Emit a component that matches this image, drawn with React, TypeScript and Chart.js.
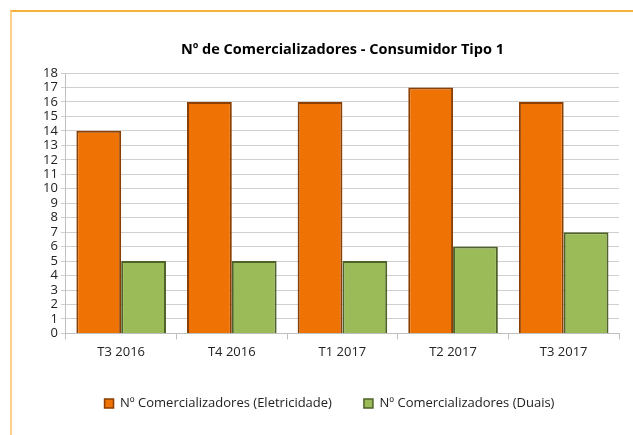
import React, { useEffect, useRef } from "react";
import { Chart, registerables } from "chart.js";

Chart.register(...registerables);

const categories = ["T3 2016", "T4 2016", "T1 2017", "T2 2017", "T3 2017"];
const eletricidade = [14, 16, 16, 17, 16];
const duais = [5, 5, 5, 6, 7];
const seriesNames = ["Nº Comercializadores (Eletricidade)", "Nº Comercializadores (Duais)"];
const titleText = "Nº de Comercializadores - Consumidor Tipo 1";

const centeredTitle = {
  id: "centeredTitle",
  afterDraw(chart: any) {
    const { ctx, chartArea } = chart;
    ctx.save();
    ctx.font = "bold 14.5px 'Open Sans'";
    ctx.fillStyle = "#000000";
    ctx.textAlign = "center";
    ctx.textBaseline = "middle";
    ctx.fillText(titleText, (chartArea.left + chartArea.right) / 2, 50);
    ctx.restore();
  },
};

export default function App() {
  const ref = useRef<HTMLCanvasElement | null>(null);
  useEffect(() => {
    if (!ref.current) return;
    const chart = new Chart(ref.current, {
      type: "bar",
      data: {
        labels: categories,
        datasets: [
          {
            label: seriesNames[0],
            data: eletricidade,
            backgroundColor: "#ef7204",
            borderColor: "#8c3f02",
            borderWidth: { top: 2, left: 2, right: 2, bottom: 0 },
            borderSkipped: false,
            categoryPercentage: 0.81,
            barPercentage: 1,
          },
          {
            label: seriesNames[1],
            data: duais,
            backgroundColor: "#9bbb59",
            borderColor: "#4f6228",
            borderWidth: { top: 2, left: 2, right: 2, bottom: 0 },
            borderSkipped: false,
            categoryPercentage: 0.81,
            barPercentage: 1,
          },
        ],
      },
      plugins: [centeredTitle],
      options: {
        animation: false,
        responsive: false,
        maintainAspectRatio: false,
        layout: { padding: { left: 40, right: 14, top: 73, bottom: 15 } },
        plugins: {
          title: { display: false },
          legend: {
            position: "bottom",
            labels: {
              color: "#222222",
              font: { family: "Open Sans", size: 13 },
              boxWidth: 9,
              boxHeight: 9,
              padding: 32,
            },
          },
          tooltip: { enabled: false },
        },
        scales: {
          x: {
            grid: {
              display: true,
              drawOnChartArea: false,
              drawTicks: true,
              tickLength: 6,
              color: "#bfbfbf",
              offset: true,
            },
            border: { color: "#bfbfbf" },
            ticks: { color: "#222222", font: { family: "Open Sans", size: 13 }, padding: 5 },
          },
          y: {
            min: 0,
            max: 18,
            grid: { color: "#cfcfcf", tickLength: 5 },
            border: { color: "#bfbfbf" },
            ticks: {
              stepSize: 1,
              autoSkip: false,
              color: "#222222",
              font: { family: "Open Sans", size: 13 },
              padding: 3,
            },
          },
        },
      },
    });
    return () => chart.destroy();
  }, []);
  return (
    <div style={{ position: "fixed", left: 0, top: 0, width: 633, height: 435, background: "#fff" }}>
      <div
        style={{
          position: "absolute",
          left: 10,
          top: 10,
          right: 0,
          bottom: 0,
          borderTop: "2px solid #f3b33d",
          borderLeft: "2px solid #fbd08a",
        }}
      />
      <canvas ref={ref} width={633} height={435} style={{ position: "absolute", left: 0, top: 0 }} />
    </div>
  );
}
